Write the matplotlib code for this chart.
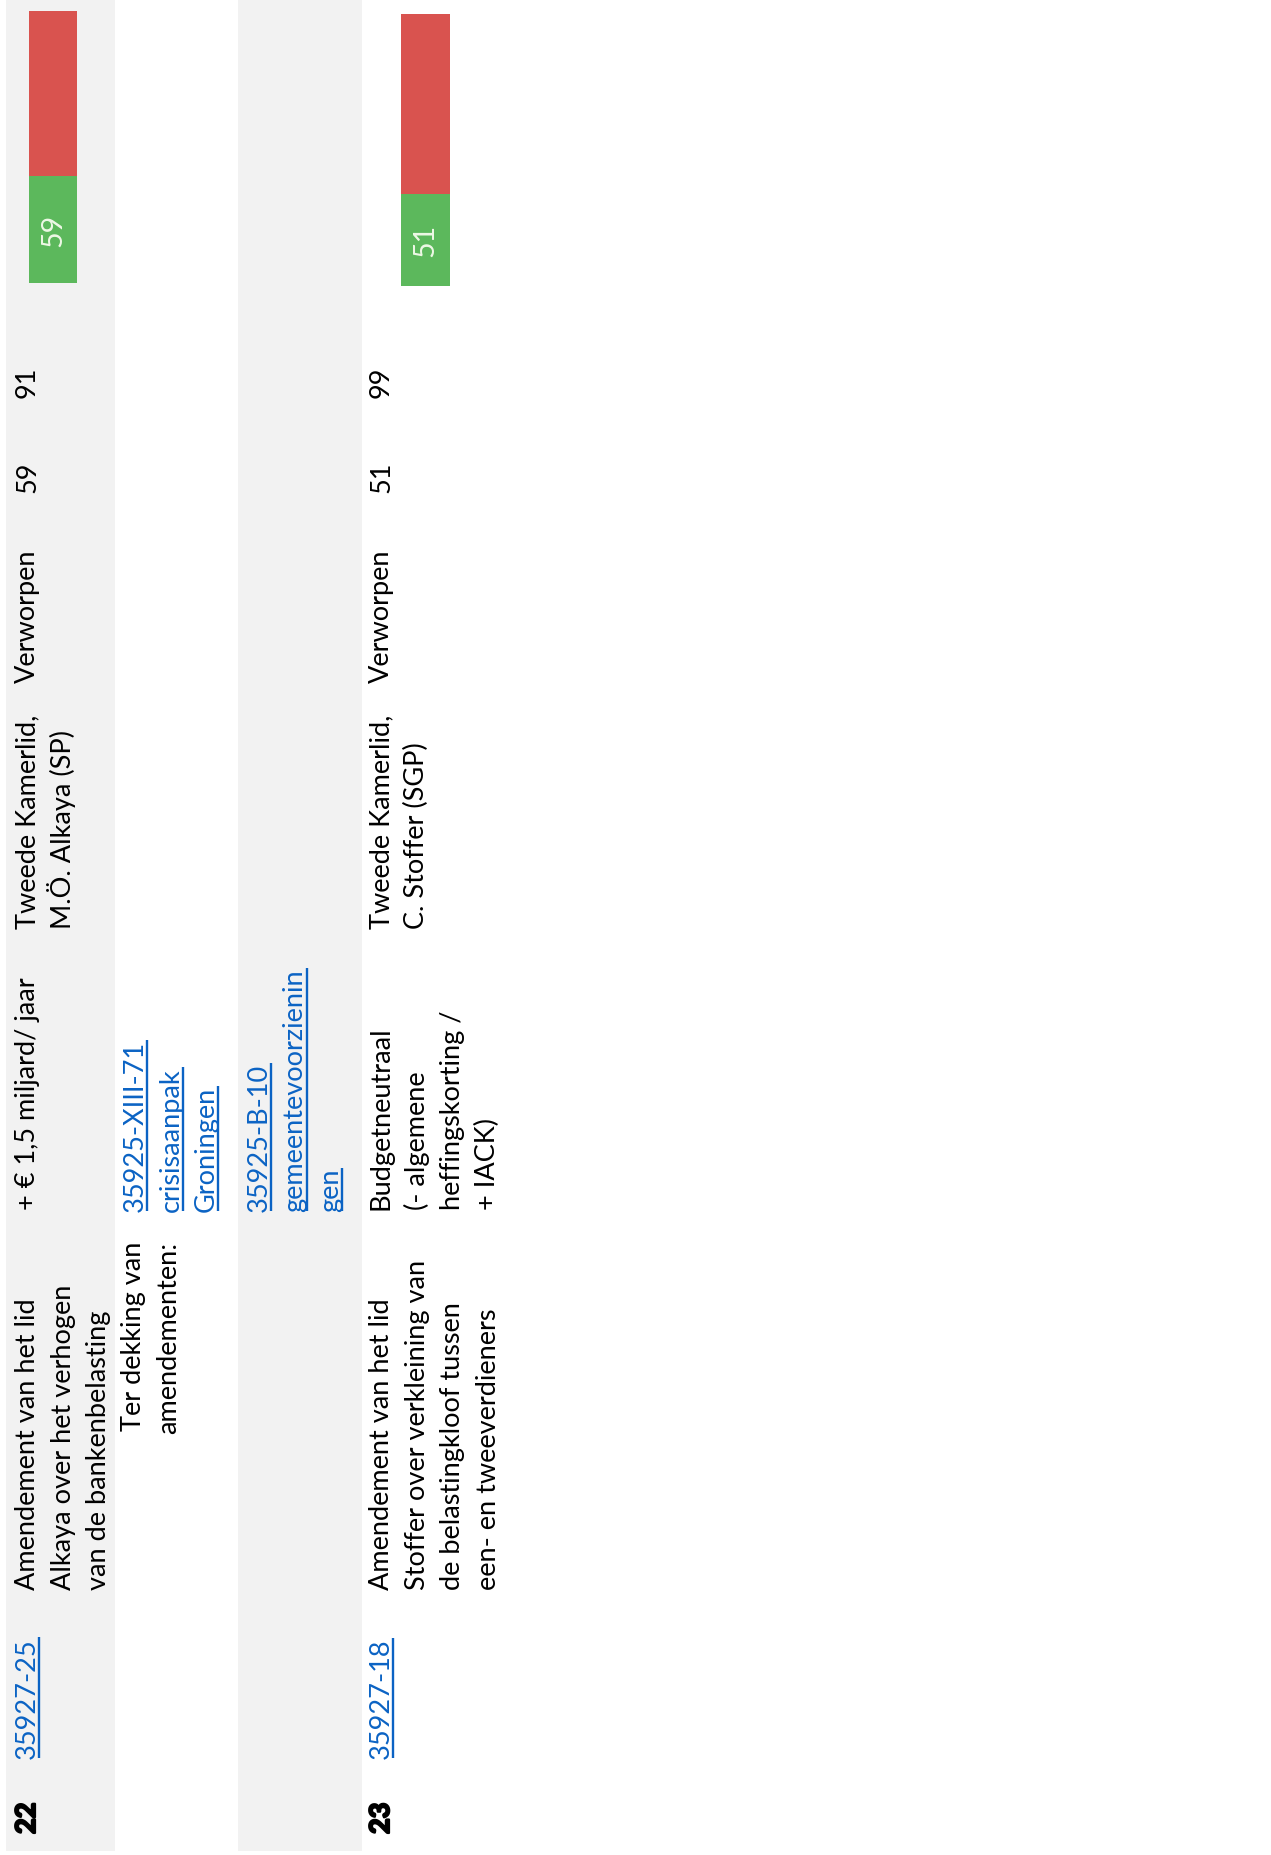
import matplotlib
matplotlib.use('Agg')
import matplotlib.pyplot as plt
import matplotlib.patheffects as pe
from matplotlib.patches import Rectangle

plt.rcParams['font.family'] = ['Lato', 'DejaVu Sans']

# table content (page is rotated, text runs bottom -> top)
nummers = ['22', '23']
dossiers = ['35927-25', '35927-18']
omschrijving = [
    ['Amendement van het lid', 'Alkaya over het verhogen', 'van de bankenbelasting'],
    ['Amendement van het lid', 'Stoffer over verkleining van',
     'de belastingkloof tussen', 'een- en tweeverdieners'],
]
kosten = [
    ['+ € 1,5 miljard/ jaar'],
    ['Budgetneutraal', '(- algemene', 'heffingskorting /', '+ IACK)'],
]
indieners = [
    ['Tweede Kamerlid,', 'M.Ö. Alkaya (SP)'],
    ['Tweede Kamerlid,', 'C. Stoffer (SGP)'],
]
uitslag = ['Verworpen', 'Verworpen']
voor = [59, 51]
tegen = [91, 99]
dekking_label = ['Ter dekking van', 'amendementen:']
dekking_links = [
    ['35925-XIII-71', 'crisisaanpak', 'Groningen'],
    ['35925-B-10', 'gemeentevoorzienin', 'gen'],
]

GREY = '#f2f2f2'
LINK = '#0b63c4'
GREEN = '#5cb85c'
RED = '#d9534f'

W, H = 1271, 1856
fig = plt.figure(figsize=(W / 100, H / 100), dpi=100)
ax = fig.add_axes([0, 0, 1, 1])
ax.set_xlim(0, W)
ax.set_ylim(H, 0)
ax.axis('off')

# shaded bands
ax.add_patch(Rectangle((6, 0), 109, 1852, color=GREY, lw=0))
ax.add_patch(Rectangle((238, 0), 124, 1852, color=GREY, lw=0))

# fit the font size to the width of the table text
renderer = fig.canvas.get_renderer()
probe = ax.text(0, 0, omschrijving[0][0], fontsize=20)
fs = 20 * 293 / probe.get_window_extent(renderer).width
probe.remove()

bold = [pe.withStroke(linewidth=1.6, foreground='black')]


def vtext(x, y, s, ha='left', **kw):
    return ax.text(x, y, s, rotation=90, rotation_mode='anchor', ha=ha,
                   va='baseline', fontsize=fs, **kw)


def underline(t, x):
    bb = t.get_window_extent(renderer)
    pts = ax.transData.inverted().transform([[bb.x0, bb.y0], [bb.x1, bb.y1]])
    ax.plot([x, x], [pts[:, 1].min(), pts[:, 1].max()], color=LINK, lw=1.7,
            solid_capstyle='butt')


def link(x, y, s):
    t = vtext(x, y, s, color=LINK)
    underline(t, x + 4)


step = 35.5
row_x = [35, 389]
for i in range(2):
    bx = row_x[i]
    vtext(bx, 1835, nummers[i], fontweight='bold', path_effects=bold)
    link(bx, 1759, dossiers[i])
    for j, line in enumerate(omschrijving[i]):
        vtext(bx + j * step, 1590, line)
    for j, line in enumerate(kosten[i]):
        vtext(bx + j * step, 1210, line)
    for j, line in enumerate(indieners[i]):
        vtext(bx + j * step, 929, line)
    vtext(bx, 683, uitslag[i])
    vtext(bx, 493, str(voor[i]))
    vtext(bx, 398, str(tegen[i]))

# dekking (belongs to row 22)
for j, line in enumerate(dekking_label):
    vtext(141 + j * step, 1242, line, ha='right')
for j, line in enumerate(dekking_links[0]):
    link(143 + j * step, 1212, line)
for j, line in enumerate(dekking_links[1]):
    link(267 + j * step, 1212, line)

# vote bars
bar_boxes = [(29, 77, 12, 284), (401, 450, 15, 287)]
for i, (x0, x1, y0, y1) in enumerate(bar_boxes):
    bax = fig.add_axes([x0 / W, 1 - y1 / H, (x1 - x0) / W, (y1 - y0) / H])
    bax.bar(0, voor[i], width=1, color=GREEN)
    bax.bar(0, tegen[i], bottom=voor[i], width=1, color=RED)
    bax.set_xlim(-0.5, 0.5)
    bax.set_ylim(0, voor[i] + tegen[i])
    bax.axis('off')
    bax.text(0, voor[i] / 2, str(voor[i]), rotation=90, ha='center',
             va='center', color='#eef8e6', fontsize=fs * 1.05)

fig.savefig('out.png', dpi=100)
